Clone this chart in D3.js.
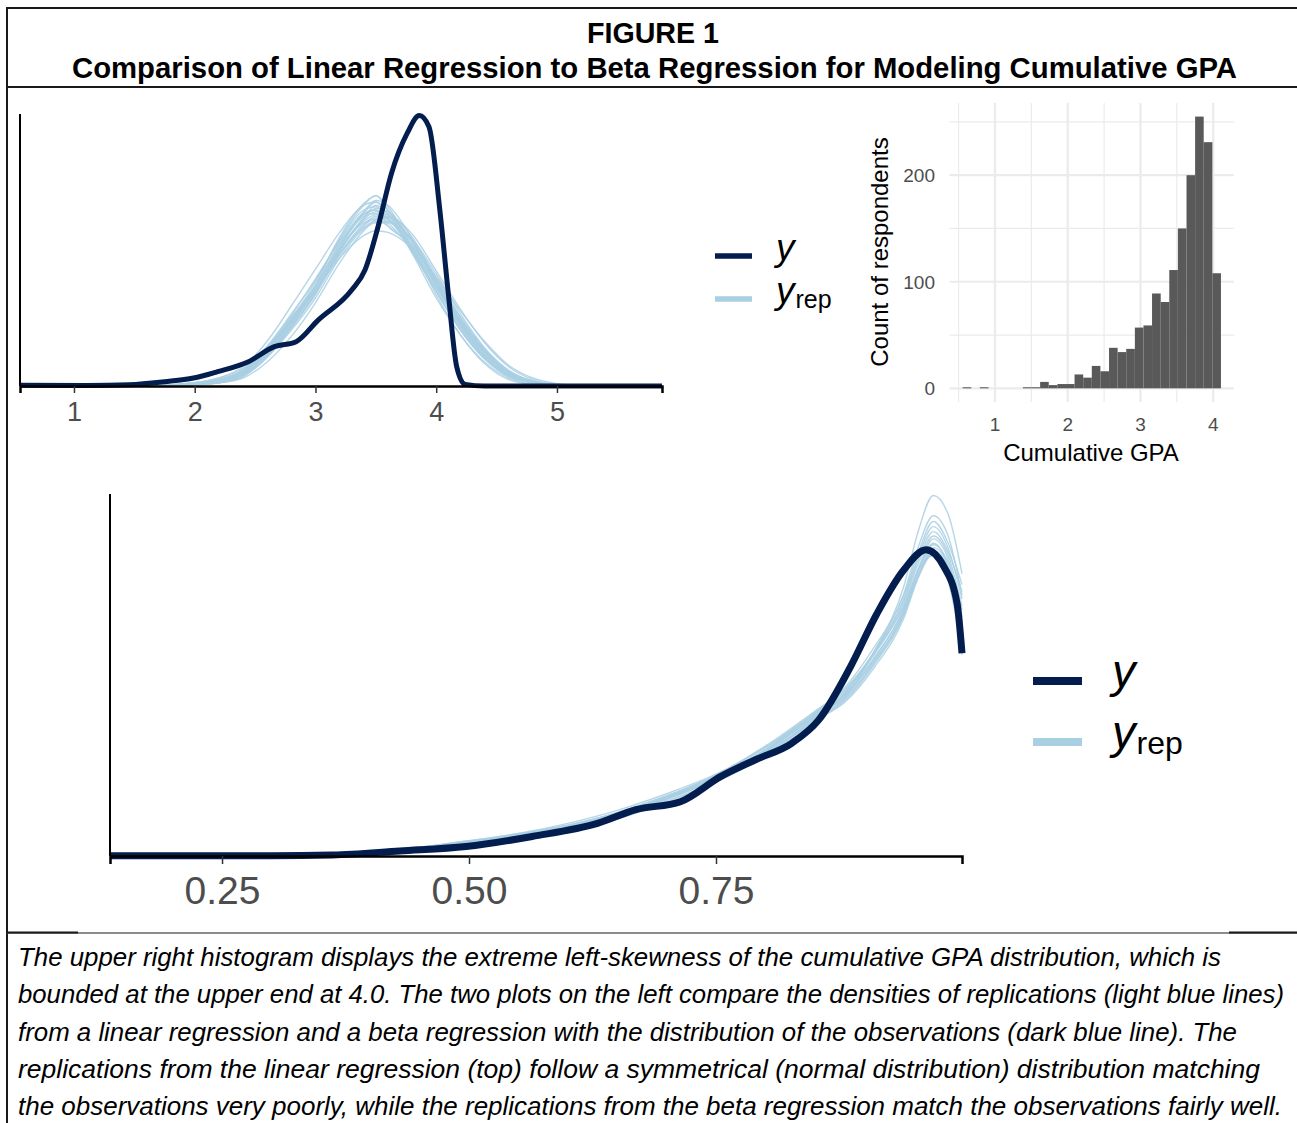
<!DOCTYPE html>
<html>
<head>
<meta charset="utf-8">
<script src="https://cdn.jsdelivr.net/npm/d3@7"></script>
<style>
	body { margin: 0; background: #fff; }
	svg { display: block; }
</style>
</head>
<body>
<svg width="1297" height="1123"></svg>
<script>
var titleLines = ['FIGURE 1', 'Comparison of Linear Regression to Beta Regression for Modeling Cumulative GPA'];
var captionLines = [
	'The upper right histogram displays the extreme left-skewness of the cumulative GPA distribution, which is',
	'bounded at the upper end at 4.0. The two plots on the left compare the densities of replications (light blue lines)',
	'from a linear regression and a beta regression with the distribution of the observations (dark blue line). The',
	'replications from the linear regression (top) follow a symmetrical (normal distribution) distribution matching',
	'the observations very poorly, while the replications from the beta regression match the observations fairly well.'
];

// top left: linear regression, observed density
var linTicks = [1, 2, 3, 4, 5];
var linObsX = [0.553, 1.10, 1.46, 1.75, 1.99, 2.19, 2.44, 2.66, 2.84, 3.02, 3.30, 3.41, 3.52, 3.63, 3.76, 3.86, 3.94, 4.03, 4.10, 4.17, 4.24, 4.40, 5.87];
var linObsD = [0.004, 0.003, 0.008, 0.027, 0.05, 0.09, 0.15, 0.246, 0.277, 0.41, 0.60, 0.725, 1.00, 1.33, 1.58, 1.69, 1.62, 1.10, 0.58, 0.12, 0.01, 0, 0];

// top left: replications
var linRepX = [0.553, 1.6, 2.0, 2.2, 2.4, 2.6, 2.8, 3.0, 3.2, 3.4, 3.5, 3.6, 3.8, 4.0, 4.2, 4.4, 4.6, 4.8, 5.0, 5.2, 5.87];
var linRep = [
	[0, 0, 0.01, 0.03, 0.08, 0.22, 0.40, 0.60, 0.85, 1.03, 1.07, 1.04, 0.88, 0.65, 0.40, 0.21, 0.08, 0.02, 0.004, 0, 0],
	[0, 0, 0.01, 0.04, 0.10, 0.25, 0.45, 0.66, 0.91, 1.10, 1.12, 1.05, 0.85, 0.60, 0.36, 0.18, 0.07, 0.02, 0.003, 0, 0],
	[0, 0, 0.01, 0.03, 0.07, 0.19, 0.37, 0.57, 0.82, 1.00, 1.05, 1.05, 0.91, 0.68, 0.43, 0.23, 0.09, 0.03, 0.005, 0, 0],
	[0, 0, 0.02, 0.04, 0.09, 0.23, 0.42, 0.63, 0.89, 1.08, 1.15, 1.10, 0.86, 0.59, 0.35, 0.17, 0.06, 0.02, 0.003, 0, 0],
	[0, 0, 0.01, 0.03, 0.08, 0.20, 0.38, 0.59, 0.84, 1.04, 1.09, 1.07, 0.90, 0.65, 0.40, 0.20, 0.08, 0.02, 0.004, 0, 0],
	[0, 0, 0.01, 0.02, 0.06, 0.18, 0.35, 0.55, 0.80, 0.98, 1.02, 1.02, 0.92, 0.70, 0.45, 0.24, 0.10, 0.03, 0.006, 0, 0],
	[0, 0, 0.01, 0.04, 0.10, 0.24, 0.43, 0.62, 0.86, 1.02, 1.04, 1.00, 0.86, 0.64, 0.41, 0.22, 0.09, 0.03, 0.005, 0, 0],
	[0, 0, 0.01, 0.03, 0.08, 0.22, 0.41, 0.62, 0.88, 1.07, 1.10, 1.04, 0.87, 0.62, 0.38, 0.19, 0.07, 0.02, 0.003, 0, 0],
	[0, 0, 0.01, 0.03, 0.07, 0.20, 0.39, 0.60, 0.83, 1.01, 1.06, 1.06, 0.93, 0.66, 0.39, 0.19, 0.07, 0.02, 0.003, 0, 0],
	[0, 0, 0.02, 0.04, 0.09, 0.22, 0.40, 0.60, 0.85, 1.05, 1.13, 1.08, 0.84, 0.61, 0.39, 0.21, 0.08, 0.02, 0.004, 0, 0],
	[0, 0, 0.01, 0.03, 0.08, 0.21, 0.40, 0.62, 0.87, 1.06, 1.08, 1.02, 0.85, 0.63, 0.41, 0.22, 0.09, 0.03, 0.005, 0, 0],
	[0, 0, 0.01, 0.02, 0.07, 0.19, 0.36, 0.58, 0.85, 1.05, 1.11, 1.09, 0.90, 0.64, 0.38, 0.19, 0.07, 0.02, 0.003, 0, 0],
	[0, 0, 0.01, 0.03, 0.09, 0.23, 0.41, 0.60, 0.82, 0.99, 1.03, 1.03, 0.90, 0.67, 0.43, 0.23, 0.09, 0.03, 0.005, 0, 0],
	[0, 0, 0.01, 0.03, 0.08, 0.22, 0.42, 0.65, 0.92, 1.13, 1.19, 1.10, 0.84, 0.59, 0.35, 0.17, 0.06, 0.02, 0.003, 0, 0],
	[0, 0, 0.02, 0.05, 0.12, 0.28, 0.50, 0.73, 0.96, 1.13, 1.15, 1.07, 0.83, 0.55, 0.32, 0.15, 0.05, 0.01, 0, 0, 0],
	[0, 0, 0.01, 0.02, 0.05, 0.15, 0.31, 0.52, 0.77, 0.97, 1.04, 1.06, 0.95, 0.72, 0.48, 0.27, 0.12, 0.04, 0.01, 0, 0],
	[0, 0.003, 0.02, 0.05, 0.11, 0.24, 0.41, 0.60, 0.80, 0.94, 0.97, 0.96, 0.86, 0.68, 0.47, 0.28, 0.13, 0.05, 0.015, 0.003, 0],
	[0, 0, 0.005, 0.02, 0.06, 0.18, 0.38, 0.63, 0.93, 1.14, 1.19, 1.12, 0.87, 0.57, 0.32, 0.14, 0.04, 0.01, 0, 0, 0],
	[0, 0, 0.01, 0.04, 0.10, 0.24, 0.44, 0.67, 0.90, 1.08, 1.10, 1.00, 0.88, 0.66, 0.42, 0.22, 0.08, 0.02, 0.004, 0, 0],
	[0, 0, 0.01, 0.03, 0.08, 0.20, 0.37, 0.58, 0.86, 1.09, 1.16, 1.13, 0.92, 0.63, 0.37, 0.18, 0.06, 0.02, 0.003, 0, 0]
];

// top right: histogram of cumulative GPA
var histEdges = [0.556, 0.674, 0.793, 0.911, 1.029, 1.148, 1.266, 1.384, 1.503, 1.621, 1.739, 1.858, 1.976, 2.094, 2.213, 2.331,
	2.449, 2.568, 2.686, 2.804, 2.923, 3.041, 3.159, 3.278, 3.396, 3.514, 3.633, 3.751, 3.869, 3.988, 4.106];
var histCounts = [1, 0, 1, 0, 0, 0, 0, 1, 1, 6, 3, 4, 4, 13, 10, 21, 16, 38, 34, 37, 57, 59, 89, 81, 111, 150, 200, 255, 231, 108];
var histXTicks = [1, 2, 3, 4];
var histXMinor = [0.5, 1.5, 2.5, 3.5];
var histYTicks = [0, 100, 200];
var histYMinor = [50, 150, 250];

// bottom: beta regression, observed density
var betaTicks = [0.25, 0.50, 0.75];
var betaObsX = [0.137, 0.30, 0.362, 0.43, 0.497, 0.564, 0.63, 0.669, 0.714, 0.755, 0.79, 0.827, 0.854, 0.886, 0.913, 0.940, 0.9625, 0.9805, 0.994, 0.999];
var betaObsD = [0.005, 0.005, 0.014, 0.07, 0.13, 0.27, 0.45, 0.64, 0.75, 1.10, 1.33, 1.56, 1.88, 2.61, 3.35, 3.95, 4.23, 4.00, 3.49, 2.80];

// bottom: replications
var betaRepX = [0.137, 0.30, 0.40, 0.45, 0.50, 0.55, 0.60, 0.65, 0.70, 0.75, 0.80, 0.85, 0.88, 0.91, 0.94, 0.955, 0.97, 0.985, 0.999];
var betaRep = [
	[0, 0.005, 0.04, 0.10, 0.18, 0.27, 0.39, 0.57, 0.80, 1.08, 1.45, 1.92, 2.20, 2.72, 3.42, 3.98, 4.38, 4.10, 3.30],
	[0, 0.006, 0.05, 0.12, 0.20, 0.30, 0.42, 0.60, 0.83, 1.11, 1.50, 1.98, 2.28, 2.82, 3.55, 4.15, 4.55, 4.25, 3.55],
	[0, 0.004, 0.03, 0.09, 0.16, 0.25, 0.37, 0.55, 0.78, 1.05, 1.40, 1.86, 2.14, 2.64, 3.32, 3.88, 4.20, 3.95, 3.05],
	[0, 0.005, 0.05, 0.11, 0.19, 0.28, 0.40, 0.56, 0.79, 1.09, 1.47, 1.95, 2.18, 2.68, 3.38, 3.95, 4.30, 4.05, 3.40],
	[0, 0.004, 0.04, 0.10, 0.17, 0.26, 0.40, 0.58, 0.81, 1.07, 1.43, 1.90, 2.24, 2.80, 3.52, 4.10, 4.48, 4.20, 3.65],
	[0, 0.006, 0.04, 0.09, 0.18, 0.28, 0.38, 0.56, 0.82, 1.12, 1.52, 2.00, 2.30, 2.80, 3.45, 3.95, 4.15, 3.80, 2.85],
	[0, 0.004, 0.03, 0.08, 0.15, 0.23, 0.34, 0.51, 0.74, 1.02, 1.38, 1.85, 2.18, 2.82, 3.72, 4.50, 4.98, 4.72, 3.90],
	[0, 0.005, 0.05, 0.11, 0.19, 0.29, 0.42, 0.60, 0.83, 1.10, 1.46, 1.91, 2.16, 2.66, 3.34, 3.90, 4.26, 4.00, 3.20],
	[0, 0.005, 0.04, 0.10, 0.18, 0.27, 0.39, 0.57, 0.80, 1.06, 1.44, 1.94, 2.26, 2.78, 3.48, 4.05, 4.42, 4.15, 3.45],
	[0, 0.006, 0.05, 0.12, 0.21, 0.31, 0.43, 0.59, 0.81, 1.06, 1.41, 1.87, 2.12, 2.60, 3.28, 3.85, 4.18, 3.90, 3.00],
	[0, 0.004, 0.04, 0.09, 0.17, 0.26, 0.38, 0.56, 0.79, 1.08, 1.47, 1.97, 2.32, 2.88, 3.60, 4.20, 4.62, 4.32, 3.75],
	[0, 0.005, 0.04, 0.10, 0.18, 0.28, 0.40, 0.57, 0.81, 1.09, 1.46, 1.93, 2.22, 2.74, 3.40, 3.96, 4.32, 3.98, 2.78],
	[0, 0.005, 0.05, 0.12, 0.21, 0.31, 0.45, 0.63, 0.86, 1.13, 1.50, 1.96, 2.22, 2.70, 3.35, 3.88, 4.22, 3.96, 3.25],
	[0, 0.004, 0.03, 0.08, 0.16, 0.24, 0.36, 0.53, 0.76, 1.03, 1.41, 1.90, 2.24, 2.82, 3.62, 4.28, 4.70, 4.42, 3.60]
];

(function () {

	var svg = d3.select('svg');
	var dark = '#021d4e';
	var light = '#a9cfe3';
	var tickGrey = '#4d4d4d';
	var sans = '"Liberation Sans", Arial, sans-serif';
	var narrow = '"Liberation Sans Narrow", "Liberation Sans", sans-serif';

	// frame around the figure
	var frame = svg.append('g').attr('stroke', '#1a1a1a').attr('stroke-width', 2);
	frame.append('line').attr('x1', 7).attr('x2', 1297).attr('y1', 8).attr('y2', 8);
	frame.append('line').attr('x1', 7).attr('x2', 7).attr('y1', 7).attr('y2', 1123);
	frame.append('line').attr('x1', 7).attr('x2', 1297).attr('y1', 87).attr('y2', 87);
	frame.append('line').attr('x1', 7).attr('x2', 1297).attr('y1', 933).attr('y2', 933)
		.attr('stroke', '#666').attr('stroke-width', 1.5);
	frame.append('line').attr('x1', 7).attr('x2', 78).attr('y1', 932.5).attr('y2', 932.5);
	frame.append('line').attr('x1', 1229).attr('x2', 1297).attr('y1', 932.5).attr('y2', 932.5);

	// title
	svg.selectAll('text.title')
		.data(titleLines)
		.enter().append('text')
		.attr('class', 'title')
		.attr('x', function (d, i) { return i == 0 ? 587 : 72; })
		.attr('y', function (d, i) { return i == 0 ? 43 : 78; })
		.attr('textLength', function (d, i) { return i == 0 ? 132 : 1165; })
		.attr('lengthAdjust', 'spacingAndGlyphs')
		.style('font-family', narrow)
		.style('font-weight', 'bold')
		.style('font-size', '29px')
		.text(function (d) { return d; });

	// caption
	var captionWidths = [1203, 1266, 1219, 1242, 1264];
	svg.selectAll('text.caption')
		.data(captionLines)
		.enter().append('text')
		.attr('class', 'caption')
		.attr('x', 18)
		.attr('y', function (d, i) { return 966 + i * 37.3; })
		.attr('textLength', function (d, i) { return captionWidths[i]; })
		.attr('lengthAdjust', 'spacingAndGlyphs')
		.style('font-family', narrow)
		.style('font-style', 'italic')
		.style('font-size', '26px')
		.text(function (d) { return d; });

	function densityPanel(o) {
		var x = d3.scaleLinear().domain(o.xDomain).range(o.xRange);
		var y = d3.scaleLinear().domain(o.yDomain).range(o.yRange);
		var g = svg.append('g');

		var line = function (xs) {
			return d3.line()
				.x(function (d, i) { return x(xs[i]); })
				.y(function (d) { return y(d); })
				.curve(d3.curveMonotoneX);
		};

		g.selectAll('path.rep')
			.data(o.rep)
			.enter().append('path')
			.attr('class', 'rep')
			.attr('fill', 'none')
			.attr('stroke', light)
			.attr('stroke-width', o.repWidth)
			.attr('stroke-opacity', 0.85)
			.attr('d', line(o.repX));

		g.append('path')
			.datum(o.obs)
			.attr('fill', 'none')
			.attr('stroke', dark)
			.attr('stroke-width', o.obsWidth)
			.attr('stroke-linejoin', 'round')
			.attr('d', line(o.obsX));

		// axes
		g.append('line')
			.attr('x1', o.xRange[0]).attr('x2', o.xRange[0])
			.attr('y1', o.yRange[1]).attr('y2', o.yRange[0])
			.attr('stroke', '#000').attr('stroke-width', 2);
		var axis = g.append('g')
			.attr('transform', 'translate(0,' + o.yRange[0] + ')')
			.call(d3.axisBottom(x).tickValues(o.ticks).tickFormat(o.format).tickSize(o.tickLen).tickPadding(o.pad));
		axis.select('.domain').attr('stroke', '#000').attr('stroke-width', 2.5);
		axis.selectAll('.tick line').attr('stroke', '#333').attr('stroke-width', 1.5);
		axis.selectAll('.tick text')
			.attr('fill', tickGrey)
			.style('font-family', sans)
			.style('font-size', o.fontSize + 'px');
	}

	densityPanel({
		xDomain: [0.553, 5.87], xRange: [20, 662],
		yDomain: [0, 1.7], yRange: [386, 114],
		rep: linRep, repX: linRepX, obs: linObsD, obsX: linObsX,
		repWidth: 1.4, obsWidth: 5,
		ticks: linTicks, format: d3.format('d'), tickLen: 7, pad: 9, fontSize: 27
	});

	densityPanel({
		xDomain: [0.1366, 0.999], xRange: [110, 962],
		yDomain: [0, 5], yRange: [856, 494],
		rep: betaRep, repX: betaRepX, obs: betaObsD, obsX: betaObsX,
		repWidth: 1.4, obsWidth: 7,
		ticks: betaTicks, format: d3.format('.2f'), tickLen: 8, pad: 12, fontSize: 39
	});

	// legends
	function legend(o) {
		var g = svg.append('g');
		[dark, light].forEach(function (c, i) {
			g.append('line')
				.attr('x1', o.x).attr('x2', o.x + o.len)
				.attr('y1', o.y + i * o.gap).attr('y2', o.y + i * o.gap)
				.attr('stroke', c).attr('stroke-width', o.width);
		});
		g.append('text')
			.attr('x', o.tx).attr('y', o.y + o.base)
			.style('font-family', sans).style('font-style', 'italic').style('font-size', o.big + 'px')
			.text('y');
		var t = g.append('text')
			.attr('x', o.tx).attr('y', o.y + o.gap + o.base)
			.style('font-family', sans).style('font-size', o.big + 'px');
		t.append('tspan').style('font-style', 'italic').text('y');
		t.append('tspan').attr('dx', 1).attr('dy', o.sub).style('font-size', o.small + 'px').text('rep');
	}

	legend({ x: 715, y: 256, len: 37, gap: 43, width: 5.5, tx: 776, base: 4, big: 37, small: 25, sub: 5 });
	legend({ x: 1033, y: 681, len: 49, gap: 61, width: 8, tx: 1112, base: 6, big: 47, small: 32, sub: 6 });

	// histogram
	var hx = d3.scaleLinear().domain([0.378, 4.284]).range([949.7, 1233.9]);
	var hy = d3.scaleLinear().domain([-12.75, 267.75]).range([401.9, 103]);
	var h = svg.append('g');

	h.selectAll('line.vminor').data(histXMinor).enter().append('line')
		.attr('x1', hx).attr('x2', hx).attr('y1', hy.range()[0]).attr('y2', hy.range()[1])
		.attr('stroke', '#ebebeb').attr('stroke-width', 1.2);
	h.selectAll('line.hminor').data(histYMinor).enter().append('line')
		.attr('y1', hy).attr('y2', hy).attr('x1', hx.range()[0]).attr('x2', hx.range()[1])
		.attr('stroke', '#ebebeb').attr('stroke-width', 1.2);
	h.selectAll('line.vmajor').data(histXTicks).enter().append('line')
		.attr('x1', hx).attr('x2', hx).attr('y1', hy.range()[0]).attr('y2', hy.range()[1])
		.attr('stroke', '#ebebeb').attr('stroke-width', 2.2);
	h.selectAll('line.hmajor').data(histYTicks).enter().append('line')
		.attr('y1', hy).attr('y2', hy).attr('x1', hx.range()[0]).attr('x2', hx.range()[1])
		.attr('stroke', '#ebebeb').attr('stroke-width', 2.2);

	h.selectAll('rect')
		.data(histCounts)
		.enter().append('rect')
		.attr('x', function (d, i) { return hx(histEdges[i]); })
		.attr('width', function (d, i) { return hx(histEdges[i + 1]) - hx(histEdges[i]); })
		.attr('y', function (d) { return hy(d); })
		.attr('height', function (d) { return hy(0) - hy(d); })
		.attr('fill', '#595959');

	h.selectAll('text.xt').data(histXTicks).enter().append('text')
		.attr('x', hx).attr('y', 431)
		.attr('text-anchor', 'middle')
		.attr('fill', tickGrey)
		.style('font-family', sans).style('font-size', '19px')
		.text(function (d) { return d; });
	h.selectAll('text.yt').data(histYTicks).enter().append('text')
		.attr('x', 935).attr('y', function (d) { return hy(d) + 7; })
		.attr('text-anchor', 'end')
		.attr('fill', tickGrey)
		.style('font-family', sans).style('font-size', '19px')
		.text(function (d) { return d; });

	h.append('text')
		.attr('x', 1091).attr('y', 461)
		.attr('text-anchor', 'middle')
		.style('font-family', sans).style('font-size', '24px')
		.text('Cumulative GPA');
	h.append('text')
		.attr('transform', 'translate(888,252) rotate(-90)')
		.attr('text-anchor', 'middle')
		.style('font-family', sans).style('font-size', '24px')
		.text('Count of respondents');

})();
</script>
</body>
</html>
